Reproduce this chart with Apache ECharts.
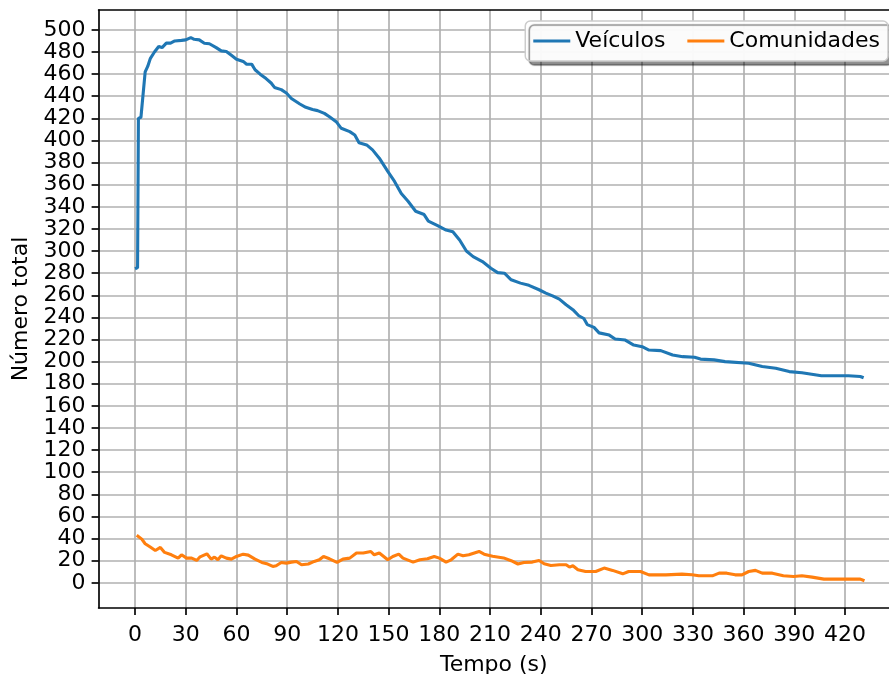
<!DOCTYPE html>
<html>
<head>
<meta charset="utf-8">
<script src="https://cdn.jsdelivr.net/npm/echarts@6/dist/echarts.min.js"></script>
<style>
  html, body { margin: 0; padding: 0; background: #fff; }
  #chart { width: 889px; height: 674px; }
</style>
</head>
<body>
<div id="chart"></div>
<script>
// Veículos (time in s, total count)
const vehTime = [0, 1.5, 2, 3.5, 4.5, 6, 7.5, 9, 11.5, 14, 16, 18.5, 21, 23.5, 27.5, 30, 33, 35, 38, 41,
  44, 48, 51, 54, 57, 60, 64, 66, 69, 71, 74, 77.5, 80.5, 82.5, 86.5, 89.5, 92.5, 97.5, 101, 105,
  108, 112, 115, 119, 122, 127, 130, 132.5, 137, 140.5, 144.5, 149.5, 153.5, 157.5, 161.5, 166, 171, 173.5, 179, 184,
  188, 192, 196, 200, 205.5, 210.5, 214.5, 218.5, 222.5, 228, 233, 239, 243, 247, 251, 255, 259, 262.5, 265.5, 267.5,
  271.5, 274.5, 280.5, 284, 290, 295, 300, 304, 311, 318, 324, 331, 334.5, 342.5, 349, 363, 371, 379, 387, 394.5,
  406, 422, 429, 431];
const vehCount = [284, 285, 420, 421, 422, 462, 467, 474, 480, 485, 484, 488, 488, 490, 490.5, 491, 493, 491.5, 491, 488,
  487.5, 484, 481, 480.5, 477, 473.5, 471.5, 469, 469, 464, 460, 456, 452, 448, 446, 443, 438, 433, 430, 428,
  427, 424.5, 421.5, 417, 411, 408, 405, 398, 396, 391.5, 384, 372, 363, 352, 345, 336, 333, 327, 323, 319,
  317.5, 310, 300, 295, 290.5, 284.5, 280.5, 280, 274, 271, 269, 265, 262, 259.5, 256.5, 251.5, 247, 241.5, 239, 233.5,
  231, 226, 224, 220.5, 219.5, 215, 213.5, 210.5, 210, 206, 204.5, 204, 202.3, 201.6, 200, 198.6, 195.6, 194, 191, 190,
  187.2, 187.2, 186.6, 185.4];

// Comunidades
const comTime = [1, 4, 6, 9, 12, 15, 17.5, 21.5, 25.5, 27.5, 30.5, 33.5, 36.5, 38.5, 42.5, 45, 47, 49, 51, 54,
  57, 60, 64, 67, 71, 75, 78.5, 81.5, 83.5, 86.5, 89.5, 92.5, 95.5, 98.5, 102.5, 106, 109, 111.5, 115, 119.5,
  123, 127, 131, 135, 139.5, 141.5, 144.5, 149.5, 152.5, 156, 158.5, 164.5, 168.5, 173, 177, 180, 184, 187, 191, 194,
  197.5, 203.5, 206.5, 211.5, 218, 222.5, 226.5, 230, 235, 239, 242, 246, 251, 255, 257, 259, 262, 266.5, 272.5, 277.5,
  282.5, 288.5, 292, 299, 304, 314, 323.5, 329.5, 333.5, 341.5, 345.5, 350, 355, 359, 363, 367, 371, 377, 383.5, 389.5,
  394.5, 400.5, 407.5, 420, 429, 431.5];
const comCount = [43, 39.5, 35.3, 32.3, 29.2, 32, 27.5, 25.3, 22.3, 25.3, 22.3, 22.3, 20.2, 23.5, 26.2, 21.4, 23.2, 20.8, 24.4, 22.3,
  21.4, 23.8, 25.9, 25, 21.4, 18.4, 16.9, 14.8, 15.4, 18.4, 17.8, 18.7, 19.3, 16.3, 17, 19.3, 20.8, 23.8, 21.7, 18.4,
  21.4, 22.3, 26.9, 26.9, 28.3, 25.3, 26.9, 20.8, 23.8, 25.9, 22.3, 18.7, 20.8, 21.7, 23.8, 22.3, 18.7, 20.8, 25.9, 24.4,
  25.3, 28.3, 25.9, 24, 22.5, 20, 17, 18.4, 18.7, 20.2, 17.2, 15.7, 16.3, 16.3, 14.2, 15.4, 11.8, 10.2, 10.2, 13.3,
  11.2, 8.1, 10.2, 10.2, 7.2, 7.2, 7.8, 7.2, 6.3, 6.3, 8.7, 8.7, 7.2, 7.2, 10.2, 11.2, 8.7, 8.7, 6.3, 5.7,
  6.3, 5.1, 3.3, 3.3, 3.3, 1.8];

const xTicks = [0, 30, 60, 90, 120, 150, 180, 210, 240, 270, 300, 330, 360, 390, 420];
const yTicks = [0, 20, 40, 60, 80, 100, 120, 140, 160, 180, 200, 220, 240, 260, 280, 300, 320, 340, 360, 380, 400, 420, 440, 460, 480, 500];

const zip = (xs, ys) => xs.map((x, i) => [x, ys[i]]);

const font = 'DejaVu Sans';
const black = { color: '#000', width: 1.67 };
const axisBase = {
  type: 'value',
  nameLocation: 'middle',
  nameTextStyle: { fontFamily: font, fontSize: 22, color: '#000' },
  axisLine: { show: true, onZero: false, lineStyle: black },
  axisTick: { show: true, inside: false, length: 7, lineStyle: black },
  axisLabel: { fontFamily: font, fontSize: 22, color: '#000', margin: 13 },
  splitLine: { show: true, lineStyle: { color: '#b0b0b0', width: 1.67 } }
};

// top spine only (the right one falls outside the picture)
const topSpine = {
  type: 'value', position: 'top', min: -21.55, max: 446,
  axisLine: { show: true, onZero: false, lineStyle: black },
  axisTick: { show: false }, axisLabel: { show: false }, splitLine: { show: false }
};

const chart = echarts.init(document.getElementById('chart'));
chart.setOption({
  animation: false,
  backgroundColor: '#fff',
  grid: {
    left: 98.6, right: 0, top: 10, bottom: 66,
    outerBoundsMode: 'none', containLabel: false
  },
  legend: {
    top: 21, right: 1,
    padding: [9, 8],
    itemWidth: 37, itemHeight: 3, itemGap: 22,
    backgroundColor: 'rgba(255,255,255,0.96)',
    borderColor: '#cccccc', borderWidth: 1.5, borderRadius: 5,
    shadowColor: 'rgba(0,0,0,0.45)', shadowBlur: 1, shadowOffsetX: 4, shadowOffsetY: 4,
    textStyle: { fontFamily: font, fontSize: 22, color: '#000' },
    data: [
      { name: 'Veículos', icon: 'rect' },
      { name: 'Comunidades', icon: 'rect' }
    ]
  },
  xAxis: [
    Object.assign({}, axisBase, {
      name: 'Tempo (s)', nameGap: 46,
      min: -21.55, max: 446,
      axisTick: Object.assign({}, axisBase.axisTick, { customValues: xTicks }),
      axisLabel: Object.assign({}, axisBase.axisLabel, { customValues: xTicks, margin: 16 })
    }),
    topSpine
  ],
  yAxis: Object.assign({}, axisBase, {
    name: 'Número total', nameGap: 66,
    min: -22.8, max: 518,
    axisTick: Object.assign({}, axisBase.axisTick, { customValues: yTicks }),
    axisLabel: Object.assign({}, axisBase.axisLabel, { customValues: yTicks })
  }),
  series: [
    {
      name: 'Veículos', type: 'line', showSymbol: false,
      color: '#1f77b4', lineStyle: { width: 3.1, color: '#1f77b4' },
      data: zip(vehTime, vehCount)
    },
    {
      name: 'Comunidades', type: 'line', showSymbol: false,
      color: '#ff7f0e', lineStyle: { width: 3.1, color: '#ff7f0e' },
      data: zip(comTime, comCount)
    }
  ]
});
</script>
</body>
</html>
